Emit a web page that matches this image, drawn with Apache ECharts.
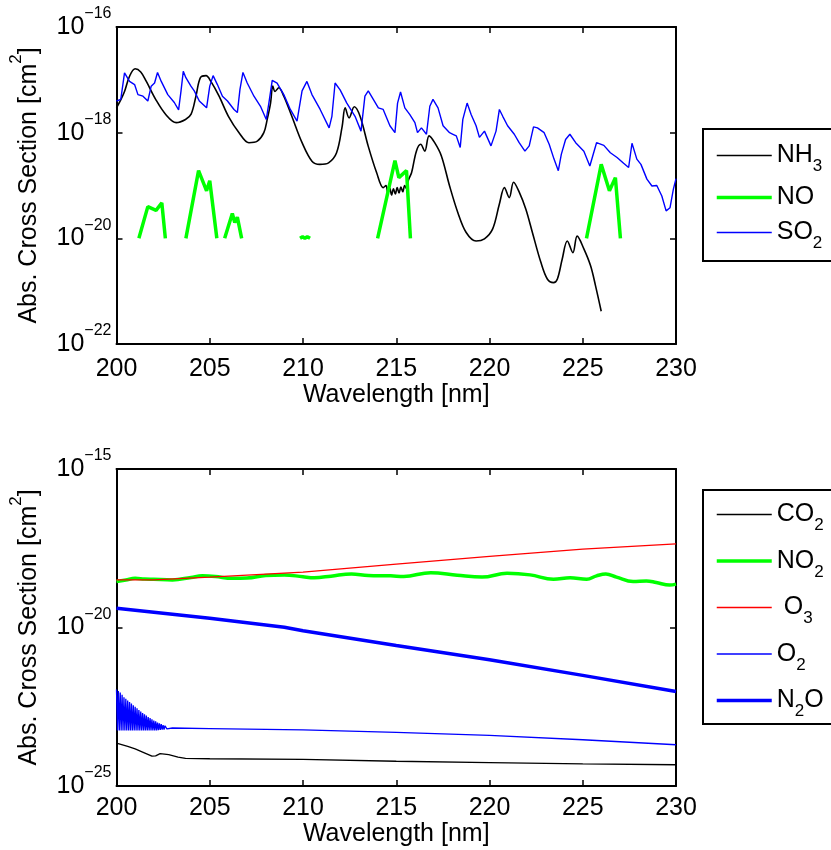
<!DOCTYPE html>
<html><head><meta charset="utf-8">
<script src="https://cdn.jsdelivr.net/npm/echarts@6/dist/echarts.min.js"></script>
<style>html,body{margin:0;padding:0;background:#fff}#c{width:831px;height:850px}</style>
</head><body><div id="c"></div>
<script>
// ---------- Top panel (cross-sections in cm^2) ----------
const nh3Wl = [200.0, 200.2, 200.43, 200.7, 201.0, 201.3, 201.6, 202.1, 202.65, 203.2, 203.7, 204.0, 204.26, 204.5, 204.8, 205.06, 205.5, 206.0, 206.57, 207.1, 207.55, 207.9, 208.08, 208.26, 208.38, 208.5, 208.7, 208.97, 209.4, 209.95, 210.48, 210.9, 211.37, 211.8, 212.1, 212.26, 212.47, 212.75, 213.06, 213.5, 213.95, 214.3, 214.45, 214.55, 214.65, 214.75, 214.85, 214.95, 215.05, 215.15, 215.25, 215.35, 215.45, 215.55, 215.65, 215.82, 216.08, 216.31, 216.53, 216.76, 217.06, 217.42, 217.86, 218.3, 218.75, 219.28, 219.73, 220.17, 220.53, 220.8, 221.06, 221.29, 221.6, 221.95, 222.3, 222.75, 223.1, 223.43, 223.64, 223.9, 224.17, 224.47, 224.7, 225.06, 225.42, 225.68, 225.99];
const nh3Val = [2.95e-18, 3.98e-18, 6.03e-18, 1.17e-17, 1.62e-17, 1.41e-17, 9.33e-18, 4.27e-18, 2.19e-18, 1.55e-18, 1.78e-18, 2.24e-18, 4.9e-18, 1.1e-17, 1.2e-17, 9.33e-18, 4.9e-18, 2.04e-18, 1.0e-18, 6.46e-19, 6.92e-19, 1.0e-18, 1.78e-18, 3.63e-18, 7.59e-18, 6.03e-18, 7.08e-18, 4.9e-18, 2.04e-18, 6.46e-19, 2.88e-19, 2.51e-19, 2.69e-19, 4.17e-19, 1.32e-18, 2.95e-18, 1.91e-18, 3.09e-18, 2.04e-18, 5.5e-19, 1.74e-19, 9.1e-20, 1.0e-19, 7.08e-20, 8.9e-20, 6.6e-20, 8.7e-20, 6.9e-20, 9.1e-20, 7.2e-20, 9.3e-20, 7.6e-20, 1.0e-19, 8.7e-20, 1.26e-19, 1.74e-19, 4.47e-19, 6.03e-19, 4.47e-19, 8.7e-19, 6.46e-19, 3.63e-19, 9.8e-20, 3.09e-20, 1.29e-20, 8.9e-21, 9.8e-21, 1.51e-20, 4.47e-20, 9.1e-20, 5.9e-20, 1.15e-19, 7.4e-20, 3.55e-20, 1.29e-20, 3.55e-21, 1.7e-21, 1.45e-21, 1.7e-21, 4.07e-21, 8.9e-21, 5.37e-21, 1.1e-20, 6.31e-21, 3.02e-21, 1.29e-21, 4.17e-22];

const noWl = [201.2, 201.68, 202.12, 202.43, 202.62, 203.2, 203.72, 204.4, 204.83, 205.0, 205.38, 205.6, 205.8, 206.21, 206.34, 206.48, 206.71, 208.0, 209.84, 209.98, 210.1, 210.23, 210.38, 212.0, 214.0, 214.93, 215.14, 215.55, 215.76, 220.0, 225.2, 225.99, 226.43, 226.75, 227.02];
const noVal = [1e-20, 3.98e-20, 3.39e-20, 4.68e-20, 1e-20, null, 1e-20, 1.91e-19, 7.94e-20, 1.23e-19, 1e-20, null, 1e-20, 2.95e-20, 2.0e-20, 2.51e-20, 1e-20, null, 1e-20, 1.07e-20, 1e-20, 1.07e-20, 1e-20, null, 1e-20, 2.95e-19, 1.41e-19, 1.91e-19, 1e-20, null, 1e-20, 2.51e-19, 7.94e-20, 1.41e-19, 1e-20];

const so2Wl = [200.0, 200.23, 200.43, 200.52, 200.7, 200.97, 201.15, 201.42, 201.68, 201.86, 202.04, 202.2, 202.4, 202.75, 203.1, 203.33, 203.46, 203.58, 203.72, 203.99, 204.17, 204.44, 204.83, 205.0, 205.18, 205.41, 205.68, 205.95, 206.3, 206.48, 206.62, 206.78, 207.01, 207.37, 207.72, 208.03, 208.17, 208.35, 208.61, 208.97, 209.32, 209.68, 209.95, 210.21, 210.48, 210.92, 211.4, 211.55, 211.72, 211.99, 212.35, 212.79, 213.11, 213.32, 213.5, 213.77, 214.04, 214.3, 214.66, 214.93, 215.07, 215.23, 215.46, 215.73, 216.0, 216.14, 216.35, 216.62, 216.8, 216.97, 217.24, 217.51, 217.86, 218.04, 218.22, 218.43, 218.57, 218.8, 219.02, 219.28, 219.46, 219.73, 220.08, 220.35, 220.53, 220.71, 220.97, 221.33, 221.59, 221.9, 222.13, 222.36, 222.57, 222.93, 223.2, 223.46, 223.69, 223.85, 224.08, 224.31, 224.62, 225.06, 225.38, 225.74, 226.13, 226.48, 226.84, 227.19, 227.46, 227.64, 227.9, 228.12, 228.44, 228.71, 228.97, 229.24, 229.47, 229.68, 229.86, 230.0];
const so2Val = [3.98e-18, 4.27e-18, 1.35e-17, 1.35e-17, 9.33e-18, 8.13e-18, 5.25e-18, 4.9e-18, 3.98e-18, 7.59e-18, 8.7e-18, 1.38e-17, 9.33e-18, 5.25e-18, 3.72e-18, 2.69e-18, 6.17e-18, 1.45e-17, 1.1e-17, 7.59e-18, 6.17e-18, 3.98e-18, 2.95e-18, 7.59e-18, 1.2e-17, 8.13e-18, 4.9e-18, 3.98e-18, 2.75e-18, 2.4e-18, 6.61e-18, 1.38e-17, 8.7e-18, 4.9e-18, 3.16e-18, 1.78e-18, 3.63e-18, 9.8e-18, 8.7e-18, 5.25e-18, 2.75e-18, 1.66e-18, 6.17e-18, 9.33e-18, 5.25e-18, 2.75e-18, 1.23e-18, 2.04e-18, 8.7e-18, 6.46e-18, 3.63e-18, 2.04e-18, 1.07e-18, 4.9e-18, 6.17e-18, 4.27e-18, 2.95e-18, 2.75e-18, 1.35e-18, 1.0e-18, 3.63e-18, 5.89e-18, 2.95e-18, 2.19e-18, 1.55e-18, 1.0e-18, 1.23e-18, 9.33e-19, 3.16e-18, 4.27e-18, 2.95e-18, 1.35e-18, 1.0e-18, 9.33e-19, 8.7e-19, 5.25e-19, 1.78e-18, 3.63e-18, 2.19e-18, 1.35e-18, 8.13e-19, 1.07e-18, 5.62e-19, 1.07e-18, 2.75e-18, 2.04e-18, 1.35e-18, 9.33e-19, 6.46e-19, 4.47e-19, 5.62e-19, 1.29e-18, 1.23e-18, 1.0e-18, 6.03e-19, 3.16e-19, 1.91e-19, 3.89e-19, 7.41e-19, 9.33e-19, 6.46e-19, 4.47e-19, 2.34e-19, 6.46e-19, 5.75e-19, 4.17e-19, 3.39e-19, 2.63e-19, 2.19e-19, 6.31e-19, 3.16e-19, 2.51e-19, 1.32e-19, 9.8e-20, 1.0e-19, 6.31e-20, 3.31e-20, 3.8e-20, 8.51e-20, 1.35e-19];

// ---------- Bottom panel ----------
const co2Wl = [200.0, 200.6, 201.0, 201.4, 201.9, 202.1, 202.34, 202.8, 203.3, 203.7, 205.0, 210.0, 215.0, 220.0, 225.0, 230.0];
const co2Val = [2.26e-24, 1.78e-24, 1.48e-24, 1.17e-24, 8.7e-25, 8.9e-25, 1.05e-24, 9.8e-25, 8.13e-25, 7.41e-25, 7.24e-25, 6.92e-25, 6.03e-25, 5.5e-25, 5.01e-25, 4.68e-25];

const no2Wl = [200.0, 200.5, 201.0, 201.5, 202.0, 203.0, 204.0, 204.6, 205.3, 206.2, 207.0, 208.0, 209.0, 210.0, 210.6, 211.5, 212.6, 213.5, 214.7, 215.4, 216.85, 218.27, 219.6, 220.94, 222.18, 223.43, 224.32, 225.21, 225.74, 226.24, 226.81, 227.7, 228.41, 228.94, 229.66, 230.0];
const no2Val = [2.82e-19, 3.16e-19, 3.55e-19, 3.39e-19, 3.31e-19, 3.16e-19, 3.8e-19, 4.27e-19, 4.07e-19, 3.55e-19, 3.63e-19, 4.37e-19, 4.57e-19, 3.98e-19, 3.72e-19, 4.17e-19, 4.9e-19, 4.37e-19, 4.27e-19, 4.07e-19, 5.37e-19, 4.47e-19, 3.89e-19, 5.13e-19, 4.57e-19, 3.31e-19, 3.72e-19, 3.31e-19, 4.27e-19, 4.9e-19, 3.89e-19, 2.82e-19, 2.95e-19, 2.63e-19, 2.19e-19, 2.34e-19];

const o3Wl = [200, 202, 205, 210, 215, 220, 225, 230];
const o3Val = [3.16e-19, 3.16e-19, 3.89e-19, 5.62e-19, 1.0e-18, 1.74e-18, 2.95e-18, 4.37e-18];

const o2Wl = [200.0, 200.05, 200.1, 200.15, 200.2, 200.25, 200.3, 200.35, 200.4, 200.45, 200.5, 200.55, 200.6, 200.65, 200.7, 200.75, 200.8, 200.85, 200.9, 200.95, 201.0, 201.05, 201.1, 201.15, 201.2, 201.25, 201.3, 201.35, 201.4, 201.45, 201.5, 201.55, 201.6, 201.65, 201.7, 201.75, 201.8, 201.85, 201.9, 201.95, 202.0, 202.05, 202.1, 202.15, 202.2, 202.25, 202.3, 202.35, 202.4, 202.45, 202.5, 202.55, 202.6, 202.7, 203.0, 205.0, 210.0, 215.0, 220.0, 225.0, 230.0];
const o2Val = [1.1e-22, 5.62e-24, 1.0e-22, 5.62e-24, 8.91e-23, 5.62e-24, 7.59e-23, 5.62e-24, 6.31e-23, 5.62e-24, 5.62e-23, 5.62e-24, 5.01e-23, 5.62e-24, 4.47e-23, 5.62e-24, 3.98e-23, 5.62e-24, 3.55e-23, 5.62e-24, 3.16e-23, 5.62e-24, 2.82e-23, 5.62e-24, 2.51e-23, 5.62e-24, 2.24e-23, 5.62e-24, 2.0e-23, 5.62e-24, 1.82e-23, 5.62e-24, 1.66e-23, 5.62e-24, 1.51e-23, 5.62e-24, 1.38e-23, 5.62e-24, 1.26e-23, 5.62e-24, 1.17e-23, 5.62e-24, 1.1e-23, 5.62e-24, 1.0e-23, 5.75e-24, 9.55e-24, 5.89e-24, 8.91e-24, 6.03e-24, 8.32e-24, 6.03e-24, 7.94e-24, 6.31e-24, 6.76e-24, 6.46e-24, 5.89e-24, 4.9e-24, 3.98e-24, 2.88e-24, 2.0e-24];

const n2oWl = [200, 205, 209, 210, 215, 220, 225, 230];
const n2oVal = [4.07e-20, 1.95e-20, 1.02e-20, 7.94e-21, 2.69e-21, 9.55e-22, 3.09e-22, 9.55e-23];

// axis ticks
const xTicks = [200, 205, 210, 215, 220, 225, 230];
const topExpTicks = [-22, -20, -18, -16];
const botExpTicks = [-25, -20, -15];

// ---------- build ----------
const FONT = '"Liberation Sans", Arial, Helvetica, sans-serif';
const BLACK = '#000';
const THIN = 1.3, THICK = 3.5;
const seriesColor = { NH3: '#000000', NO: '#00ff00', SO2: '#0000ff', CO2: '#000000', NO2: '#00ff00', O3: '#ff0000', O2: '#0000ff', N2O: '#0000ff' };
const seriesWidth = { NH3: 1.6, NO: THICK, SO2: 1.4, CO2: THIN, NO2: THICK, O3: THIN, O2: THIN, N2O: THICK };
const seriesSmooth = { NH3: 0.35, NO2: 0.4 };

function pairs(wl, vals) {
  return wl.map((x, i) => vals[i] == null ? [x, '-'] : [x, Math.log10(vals[i])]);
}
function supLabel(v) {
  const e = Math.round(v);
  return '{b|10}{e|' + (e < 0 ? '\u2212' + (-e) : e) + '}';
}
const legendText = {
  NH3: '{n|NH}{s|3}', NO: '{n|NO}', SO2: '{n|SO}{s|2}',
  CO2: '{n|CO}{s|2}', NO2: '{n|NO}{s|2}', O3: '{n| O}{s|3}', O2: '{n|O}{s|2}', N2O: '{n|N}{s|2}{n|O}'
};
const legendRich = {
  n: { fontSize: 25, lineHeight: 30, fontFamily: FONT, color: BLACK },
  s: { fontSize: 17, height: 8, verticalAlign: 'bottom', fontFamily: FONT, color: BLACK }
};

function xAxes(grid, margin, nameGap) {
  const common = {
    gridIndex: grid, type: 'value', min: xTicks[0], max: xTicks[xTicks.length - 1], interval: xTicks[1] - xTicks[0],
    axisLine: { onZero: false, lineStyle: { color: BLACK, width: 2 } },
    axisTick: { inside: true, length: 6, lineStyle: { color: BLACK, width: 1.5 } },
    splitLine: { show: false }
  };
  return [
    Object.assign({}, common, {
      position: 'bottom',
      axisLabel: { color: BLACK, fontSize: 25, fontFamily: FONT, margin: margin },
      name: 'Wavelength [nm]', nameLocation: 'middle', nameGap: nameGap,
      nameTextStyle: { color: BLACK, fontSize: 25, fontFamily: FONT }
    }),
    Object.assign({}, common, { position: 'top', axisLabel: { show: false } })
  ];
}
function yAxes(grid, ticks) {
  const common = {
    gridIndex: grid, type: 'value', min: ticks[0], max: ticks[ticks.length - 1], interval: ticks[1] - ticks[0],
    axisLine: { onZero: false, lineStyle: { color: BLACK, width: 2 } },
    axisTick: { inside: true, length: 6, lineStyle: { color: BLACK, width: 1.5 } },
    splitLine: { show: false }
  };
  return [
    Object.assign({}, common, {
      position: 'left',
      axisLabel: {
        color: BLACK, fontSize: 25, fontFamily: FONT, margin: 5, formatter: supLabel,
        rich: {
          b: { fontSize: 25, lineHeight: 30, fontFamily: FONT, color: BLACK },
          e: { fontSize: 16, height: 4, verticalAlign: 'top', fontFamily: FONT, color: BLACK }
        }
      },
      name: '{t|Abs. Cross Section [cm}{s|2}{t|]}', nameLocation: 'middle', nameGap: 72,
      nameTextStyle: {
        color: BLACK, fontSize: 25, fontFamily: FONT,
        rich: {
          t: { fontSize: 25, lineHeight: 30, fontFamily: FONT, color: BLACK },
          s: { fontSize: 17, height: 4, verticalAlign: 'top', fontFamily: FONT, color: BLACK }
        }
      }
    }),
    Object.assign({}, common, { position: 'right', axisLabel: { show: false } })
  ];
}
function line(name, wl, vals, xi, yi) {
  const color = seriesColor[name];
  return {
    type: 'line', name: name, data: pairs(wl, vals), xAxisIndex: xi, yAxisIndex: yi,
    showSymbol: false, symbol: 'none', connectNulls: false, color: color,
    smooth: seriesSmooth[name] || false,
    lineStyle: { color: color, width: seriesWidth[name] }, itemStyle: { color: color },
    emphasis: { disabled: true }
  };
}
function legend(names, top, padding, gap) {
  return {
    orient: 'vertical', left: 703, top: top, padding: padding, itemGap: gap,
    itemWidth: 55, itemHeight: 2, borderColor: BLACK, borderWidth: 2, borderRadius: 0,
    itemStyle: { opacity: 0 },
    lineStyle: { width: 'inherit' },
    data: names, selectedMode: false,
    formatter: n => legendText[n], textStyle: { rich: legendRich, fontSize: 25, fontFamily: FONT, color: BLACK }
  };
}

const chart = echarts.init(document.getElementById('c'), null, { renderer: 'canvas' });
chart.setOption({
  animation: false,
  backgroundColor: '#fff',
  grid: [
    { left: 114, top: 27, width: 562, height: 317 },
    { left: 114, top: 469, width: 562, height: 317 }
  ],
  xAxis: xAxes(0, 13, 38).concat(xAxes(1, 10, 31)),
  yAxis: yAxes(0, topExpTicks).concat(yAxes(1, botExpTicks)),
  legend: [
    legend(['NH3', 'NO', 'SO2'], 129, [14, 90, 9, 12], 10),
    legend(['CO2', 'NO2', 'O3', 'O2', 'N2O'], 490, [12, 90, 4, 12], 14.5)
  ],
  series: [
    line('NH3', nh3Wl, nh3Val, 0, 0),
    line('NO', noWl, noVal, 0, 0),
    line('SO2', so2Wl, so2Val, 0, 0),
    line('CO2', co2Wl, co2Val, 2, 2),
    line('NO2', no2Wl, no2Val, 2, 2),
    line('O3', o3Wl, o3Val, 2, 2),
    line('O2', o2Wl, o2Val, 2, 2),
    line('N2O', n2oWl, n2oVal, 2, 2)
  ]
});
</script>
</body></html>
